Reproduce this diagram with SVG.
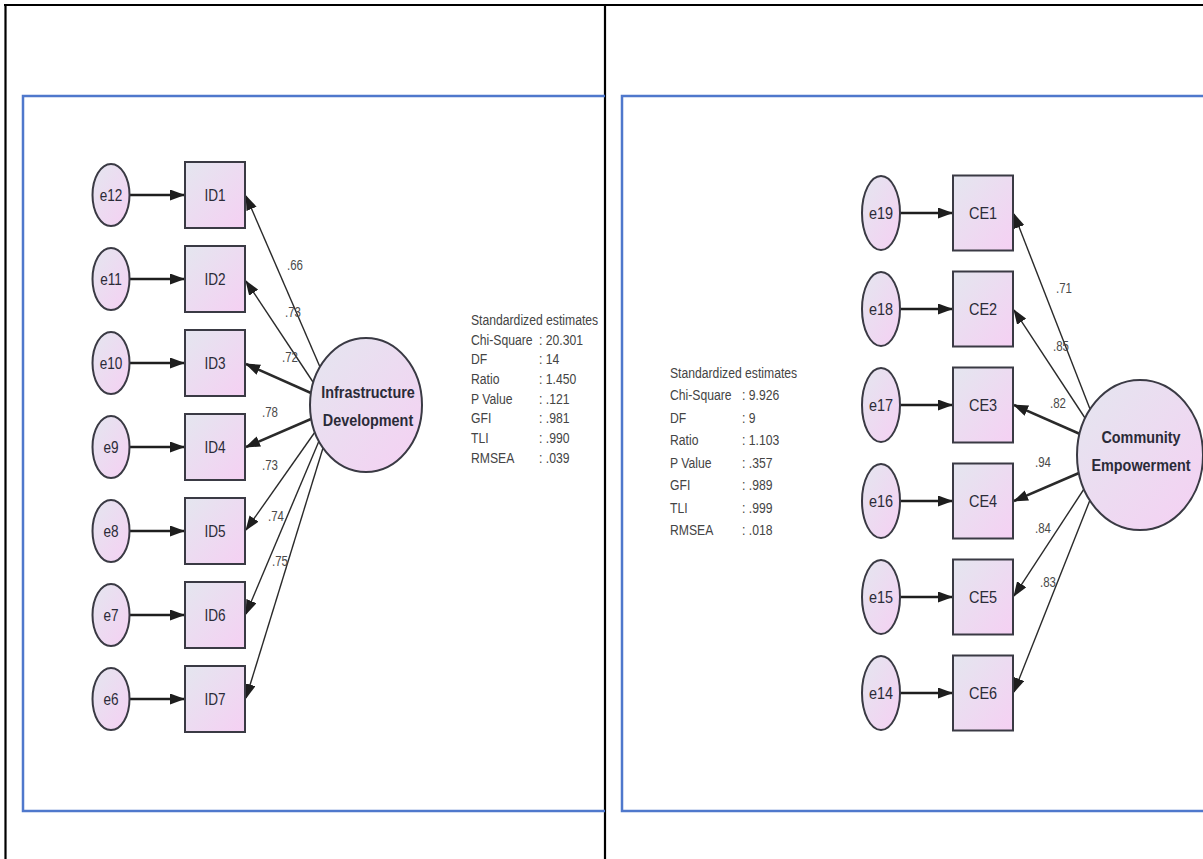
<svg xmlns="http://www.w3.org/2000/svg" width="1203" height="859" viewBox="0 0 1203 859">
<defs>
<linearGradient id="g" x1="0" y1="0" x2="1" y2="1">
<stop offset="0" stop-color="#e4e6ef"/>
<stop offset="1" stop-color="#f5d0f3"/>
</linearGradient>
<marker id="ah" markerUnits="userSpaceOnUse" markerWidth="15" markerHeight="11" viewBox="0 0 15 11" refX="14" refY="5.5" orient="auto">
<path d="M0,0 L15,5.5 L0,11 z" fill="#1e1e1e"/>
</marker>
</defs>
<style>
.frame{stroke:#000;stroke-width:2.2;fill:none}
.blue{stroke:#4f78cc;stroke-width:2.5;fill:none}
.node{fill:url(#g);stroke:#3a3a44;stroke-width:2}
.t{font-family:"Liberation Sans",Arial,sans-serif;fill:#2b2b38;text-anchor:middle}
.n{font-size:16px}
.n2{font-size:17px}
.lat{font-size:16px;font-weight:bold}
.err{stroke:#1e1e1e;stroke-width:2.6;fill:none;marker-end:url(#ah)}
.ld{stroke:#2a2a2a;stroke-width:1.4;fill:none;marker-end:url(#ah)}
.thk{stroke-width:2.6}
.est{font-family:"Liberation Sans",Arial,sans-serif;font-size:14px;fill:#4a4a4a}
.st{font-family:"Liberation Sans",Arial,sans-serif;font-size:14px;fill:#444}
</style>
<rect width="1203" height="859" fill="#fff"/>
<g id="frames">
<path class="frame" d="M4,5 H1203 M5.5,4 V859 M605,4 V859"/>
<path class="blue" d="M605,96 H23 V811 H605"/>
<path class="blue" d="M1203,96 H622 V811 H1203"/>
</g>
<g id="connectors">
<line class="err" x1="129" y1="195" x2="184" y2="195"/>
<line class="err" x1="129" y1="279" x2="184" y2="279"/>
<line class="err" x1="129" y1="363" x2="184" y2="363"/>
<line class="err" x1="129" y1="447" x2="184" y2="447"/>
<line class="err" x1="129" y1="531" x2="184" y2="531"/>
<line class="err" x1="129" y1="615" x2="184" y2="615"/>
<line class="err" x1="129" y1="699" x2="184" y2="699"/>
<line class="ld" x1="320" y1="367" x2="246" y2="196"/>
<line class="ld" x1="313" y1="382" x2="246" y2="281"/>
<line class="ld thk" x1="311" y1="393" x2="246" y2="364"/>
<line class="ld thk" x1="311" y1="419" x2="246" y2="447"/>
<line class="ld" x1="315" y1="432" x2="246" y2="530"/>
<line class="ld" x1="319" y1="441" x2="246" y2="614"/>
<line class="ld" x1="323" y1="448" x2="246" y2="698"/>
<line class="err" x1="900" y1="213" x2="952" y2="213"/>
<line class="err" x1="900" y1="309" x2="952" y2="309"/>
<line class="err" x1="900" y1="405" x2="952" y2="405"/>
<line class="err" x1="900" y1="501" x2="952" y2="501"/>
<line class="err" x1="900" y1="597" x2="952" y2="597"/>
<line class="err" x1="900" y1="693" x2="952" y2="693"/>
<line class="ld" x1="1090" y1="409" x2="1014" y2="214"/>
<line class="ld" x1="1085" y1="418" x2="1014" y2="310"/>
<line class="ld thk" x1="1080" y1="434" x2="1014" y2="405"/>
<line class="ld thk" x1="1079" y1="473" x2="1014" y2="501"/>
<line class="ld" x1="1084" y1="489" x2="1014" y2="596"/>
<line class="ld" x1="1090" y1="500" x2="1014" y2="692"/>
</g>
<g id="loadings">
<text class="est" transform="translate(287,270) scale(0.82,1)">.66</text>
<text class="est" transform="translate(285,317) scale(0.82,1)">.73</text>
<text class="est" transform="translate(282,362) scale(0.82,1)">.72</text>
<text class="est" transform="translate(262,417) scale(0.82,1)">.78</text>
<text class="est" transform="translate(262,470) scale(0.82,1)">.73</text>
<text class="est" transform="translate(268,521) scale(0.82,1)">.74</text>
<text class="est" transform="translate(272,566) scale(0.82,1)">.75</text>
<text class="est" transform="translate(1056,293) scale(0.82,1)">.71</text>
<text class="est" transform="translate(1053,351) scale(0.82,1)">.85</text>
<text class="est" transform="translate(1050,408) scale(0.82,1)">.82</text>
<text class="est" transform="translate(1035,467) scale(0.82,1)">.94</text>
<text class="est" transform="translate(1035,533) scale(0.82,1)">.84</text>
<text class="est" transform="translate(1040,587) scale(0.82,1)">.83</text>
</g>
<g id="e12"><ellipse class="node" cx="111" cy="195" rx="18.5" ry="31"/><text class="t n" transform="translate(111,201) scale(0.85,1)">e12</text></g>
<g id="e11"><ellipse class="node" cx="111" cy="279" rx="18.5" ry="31"/><text class="t n" transform="translate(111,285) scale(0.85,1)">e11</text></g>
<g id="e10"><ellipse class="node" cx="111" cy="363" rx="18.5" ry="31"/><text class="t n" transform="translate(111,369) scale(0.85,1)">e10</text></g>
<g id="e9"><ellipse class="node" cx="111" cy="447" rx="18.5" ry="31"/><text class="t n" transform="translate(111,453) scale(0.85,1)">e9</text></g>
<g id="e8"><ellipse class="node" cx="111" cy="531" rx="18.5" ry="31"/><text class="t n" transform="translate(111,537) scale(0.85,1)">e8</text></g>
<g id="e7"><ellipse class="node" cx="111" cy="615" rx="18.5" ry="31"/><text class="t n" transform="translate(111,621) scale(0.85,1)">e7</text></g>
<g id="e6"><ellipse class="node" cx="111" cy="699" rx="18.5" ry="31"/><text class="t n" transform="translate(111,705) scale(0.85,1)">e6</text></g>
<g id="ID1"><rect class="node" x="185" y="162" width="60" height="66"/><text class="t n" transform="translate(215,201) scale(0.85,1)">ID1</text></g>
<g id="ID2"><rect class="node" x="185" y="246" width="60" height="66"/><text class="t n" transform="translate(215,285) scale(0.85,1)">ID2</text></g>
<g id="ID3"><rect class="node" x="185" y="330" width="60" height="66"/><text class="t n" transform="translate(215,369) scale(0.85,1)">ID3</text></g>
<g id="ID4"><rect class="node" x="185" y="414" width="60" height="66"/><text class="t n" transform="translate(215,453) scale(0.85,1)">ID4</text></g>
<g id="ID5"><rect class="node" x="185" y="498" width="60" height="66"/><text class="t n" transform="translate(215,537) scale(0.85,1)">ID5</text></g>
<g id="ID6"><rect class="node" x="185" y="582" width="60" height="66"/><text class="t n" transform="translate(215,621) scale(0.85,1)">ID6</text></g>
<g id="ID7"><rect class="node" x="185" y="666" width="60" height="66"/><text class="t n" transform="translate(215,705) scale(0.85,1)">ID7</text></g>
<g id="InfrastructureDevelopment"><ellipse class="node" cx="366" cy="405" rx="56" ry="67"/>
<text class="t lat" transform="translate(368,398) scale(0.9,1)">Infrastructure</text>
<text class="t lat" transform="translate(368,426) scale(0.9,1)">Development</text></g>
<g id="e19"><ellipse class="node" cx="881" cy="213" rx="19" ry="37"/><text class="t n2" transform="translate(881,219) scale(0.85,1)">e19</text></g>
<g id="e18"><ellipse class="node" cx="881" cy="309" rx="19" ry="37"/><text class="t n2" transform="translate(881,315) scale(0.85,1)">e18</text></g>
<g id="e17"><ellipse class="node" cx="881" cy="405" rx="19" ry="37"/><text class="t n2" transform="translate(881,411) scale(0.85,1)">e17</text></g>
<g id="e16"><ellipse class="node" cx="881" cy="501" rx="19" ry="37"/><text class="t n2" transform="translate(881,507) scale(0.85,1)">e16</text></g>
<g id="e15"><ellipse class="node" cx="881" cy="597" rx="19" ry="37"/><text class="t n2" transform="translate(881,603) scale(0.85,1)">e15</text></g>
<g id="e14"><ellipse class="node" cx="881" cy="693" rx="19" ry="37"/><text class="t n2" transform="translate(881,699) scale(0.85,1)">e14</text></g>
<g id="CE1"><rect class="node" x="953" y="175.5" width="60" height="75"/><text class="t n2" transform="translate(983,219) scale(0.85,1)">CE1</text></g>
<g id="CE2"><rect class="node" x="953" y="271.5" width="60" height="75"/><text class="t n2" transform="translate(983,315) scale(0.85,1)">CE2</text></g>
<g id="CE3"><rect class="node" x="953" y="367.5" width="60" height="75"/><text class="t n2" transform="translate(983,411) scale(0.85,1)">CE3</text></g>
<g id="CE4"><rect class="node" x="953" y="463.5" width="60" height="75"/><text class="t n2" transform="translate(983,507) scale(0.85,1)">CE4</text></g>
<g id="CE5"><rect class="node" x="953" y="559.5" width="60" height="75"/><text class="t n2" transform="translate(983,603) scale(0.85,1)">CE5</text></g>
<g id="CE6"><rect class="node" x="953" y="655.5" width="60" height="75"/><text class="t n2" transform="translate(983,699) scale(0.85,1)">CE6</text></g>
<g id="CommunityEmpowerment"><ellipse class="node" cx="1140" cy="455" rx="63" ry="75"/>
<text class="t lat" transform="translate(1141,443) scale(0.9,1)">Community</text>
<text class="t lat" transform="translate(1141,471) scale(0.9,1)">Empowerment</text></g>
<g id="stats-left" class="st">
<text transform="translate(471,325) scale(0.87,1)">Standardized estimates</text>
<text transform="translate(471,345) scale(0.87,1)">Chi-Square</text>
<text transform="translate(471,364) scale(0.87,1)">DF</text>
<text transform="translate(471,384) scale(0.87,1)">Ratio</text>
<text transform="translate(471,404) scale(0.87,1)">P Value</text>
<text transform="translate(471,423) scale(0.87,1)">GFI</text>
<text transform="translate(471,443) scale(0.87,1)">TLI</text>
<text transform="translate(471,463) scale(0.87,1)">RMSEA</text>
<text transform="translate(539,345) scale(0.87,1)">: 20.301</text>
<text transform="translate(539,364) scale(0.87,1)">: 14</text>
<text transform="translate(539,384) scale(0.87,1)">: 1.450</text>
<text transform="translate(539,404) scale(0.87,1)">: .121</text>
<text transform="translate(539,423) scale(0.87,1)">: .981</text>
<text transform="translate(539,443) scale(0.87,1)">: .990</text>
<text transform="translate(539,463) scale(0.87,1)">: .039</text>
</g>
<g id="stats-right" class="st">
<text transform="translate(670,378) scale(0.87,1)">Standardized estimates</text>
<text transform="translate(670,400) scale(0.87,1)">Chi-Square</text>
<text transform="translate(670,423) scale(0.87,1)">DF</text>
<text transform="translate(670,445) scale(0.87,1)">Ratio</text>
<text transform="translate(670,468) scale(0.87,1)">P Value</text>
<text transform="translate(670,490) scale(0.87,1)">GFI</text>
<text transform="translate(670,513) scale(0.87,1)">TLI</text>
<text transform="translate(670,535) scale(0.87,1)">RMSEA</text>
<text transform="translate(742,400) scale(0.87,1)">: 9.926</text>
<text transform="translate(742,423) scale(0.87,1)">: 9</text>
<text transform="translate(742,445) scale(0.87,1)">: 1.103</text>
<text transform="translate(742,468) scale(0.87,1)">: .357</text>
<text transform="translate(742,490) scale(0.87,1)">: .989</text>
<text transform="translate(742,513) scale(0.87,1)">: .999</text>
<text transform="translate(742,535) scale(0.87,1)">: .018</text>
</g>
</svg>
